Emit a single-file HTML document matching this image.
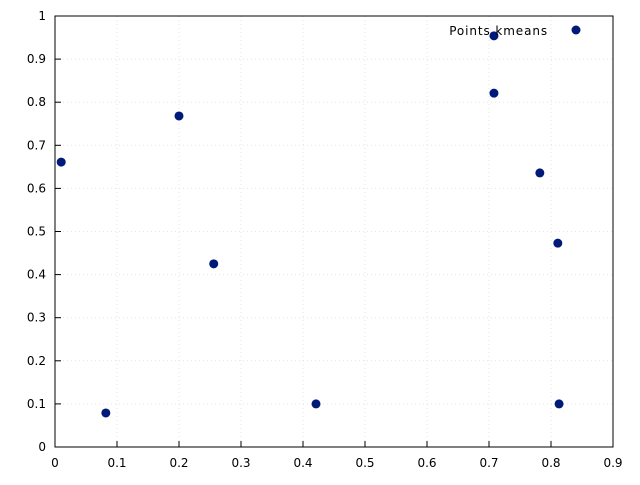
<!DOCTYPE html>
<html><head><meta charset="utf-8"><style>body{margin:0;background:#fff}svg text{font-family:"DejaVu Sans","Liberation Sans",sans-serif;font-size:12px;fill:#000}</style></head>
<body>
<svg id="c" width="640" height="480"></svg>
<script>
const xTicks=[0,0.1,0.2,0.3,0.4,0.5,0.6,0.7,0.8,0.9];
const yTicks=[0,0.1,0.2,0.3,0.4,0.5,0.6,0.7,0.8,0.9,1];
const xValues=[0.01,0.082,0.2,0.256,0.421,0.708,0.708,0.782,0.811,0.813];
const yValues=[0.661,0.079,0.768,0.425,0.1,0.954,0.821,0.636,0.473,0.1];
const seriesName="Points kmeans";
const NS="http://www.w3.org/2000/svg";
const svg=document.getElementById('c');
const L=55,R=613,T=16,B=447;
const sx=v=>L+v/0.9*(R-L), sy=v=>B-v*(B-T);
function mk(t,a,p){const e=document.createElementNS(NS,t);for(const k in a)e.setAttribute(k,a[k]);(p||svg).appendChild(e);return e;}
const grid=mk('g',{});


xTicks.forEach(v=>{const x=sx(v);
 if(v>0&&v<0.9)mk('line',{x1:x,x2:x,y1:T,y2:B,stroke:'#e4e4e4','stroke-dasharray':'1,3'},grid);
 mk('line',{x1:x,x2:x,y1:B,y2:B-6,stroke:'#000'});
 const t=mk('text',{x:x,y:467,'text-anchor':'middle'});t.textContent=v;
 
 });
yTicks.forEach(v=>{const y=sy(v);
 if(v>0&&v<1)mk('line',{x1:L,x2:R,y1:y,y2:y,stroke:'#e4e4e4','stroke-dasharray':'1,3'},grid);
 mk('line',{x1:L,x2:L+6,y1:y,y2:y,stroke:'#000'});
 const t=mk('text',{x:46,y:y+4,'text-anchor':'end'});t.textContent=v;
 
 });
const f=mk('rect',{x:L,y:T,width:R-L,height:B-T,fill:'none',stroke:'#000'});


xValues.forEach((v,i)=>{const c=mk('circle',{cx:sx(v),cy:sy(yValues[i]),r:4.5,fill:'#001a7a'});
 
 });
const lt=mk('text',{x:548,y:35,'text-anchor':'end','letter-spacing':'0.9'});lt.textContent=seriesName;


const lm=mk('circle',{cx:576,cy:30,r:4.5,fill:'#001a7a'});


</script>
</body></html>
